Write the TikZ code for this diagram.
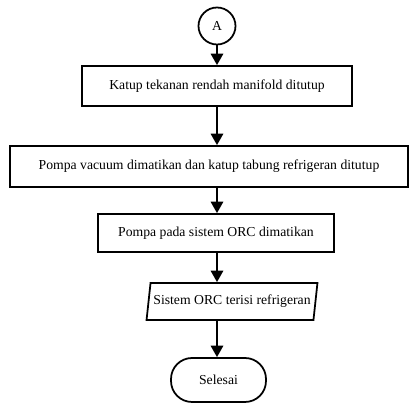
\documentclass[tikz,border=0pt]{standalone}
\usepackage{fontspec}
\setmainfont{Liberation Serif}
\usepackage{tikz}
\usetikzlibrary{shapes.geometric}
\usetikzlibrary{arrows.meta}
\tikzset{
  proses/.style={draw, line width=1pt, rectangle, minimum height=0.8cm, inner sep=2pt},
  konektor/.style={draw, line width=1pt, circle, minimum size=0.74cm, inner sep=0pt},
  io/.style={draw, line width=1pt, trapezium, trapezium left angle=73, trapezium right angle=107, trapezium stretches=true, minimum width=3.44cm, minimum height=0.74cm, inner sep=0pt},
  terminal/.style={draw, line width=1pt, rectangle, rounded corners=0.42cm, minimum width=1.9cm, minimum height=0.88cm},
  panah/.style={line width=1.2pt, -{Triangle[length=6.5pt,width=7pt]}}
}

\begin{document}
\begin{tikzpicture}[x=0.02cm, y=-0.02cm, font=\fontsize{7.8}{9}\selectfont]
        \useasboundingbox (0,0) rectangle (416,404);
        \coordinate (tengah) at (217,0);

        \node[konektor] (A) at (217,26) {A};
        \node[proses, minimum width=5.4cm] (k1) at (217,86) {Katup tekanan rendah manifold ditutup};
        \node[proses, minimum width=7.96cm, minimum height=0.82cm] (k2) at (209,166.5) {Pompa vacuum dimatikan dan katup tabung refrigeran ditutup};
        \node[proses, minimum width=4.72cm, minimum height=0.76cm] (k3) at (216,233) {Pompa pada sistem ORC dimatikan};
        \node[io] (k4) at (232,301.5) {Sistem ORC terisi refrigeran};
        \node[terminal] (k5) at (218.5,380) {Selesai};

        % alur turun
        \draw[panah] (A) -- (A |- k1.north);
        \draw[panah] (k1.south -| tengah) -- (k2.north -| tengah);
        \draw[panah] (k2.south -| tengah) -- (k3.north -| tengah);
        \draw[panah] (k3.south -| tengah) -- (k4.north -| tengah);
        \draw[panah] (k4.south -| tengah) -- (k5.north -| tengah);
    \end{tikzpicture}
\end{document}
